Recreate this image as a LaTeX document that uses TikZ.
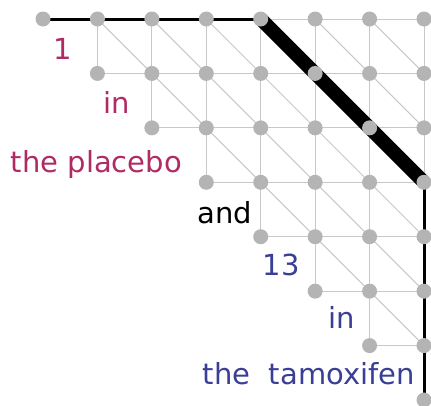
\documentclass[tikz,border=0pt]{standalone}
\usepackage{fontspec}
\setmainfont{DejaVu Sans}
\definecolor{dotgray}{HTML}{B4B4B4}
\definecolor{linegray}{HTML}{C8C8C8}
\definecolor{magentatext}{HTML}{B02A64}
\definecolor{bluetext}{HTML}{3A3F96}
\begin{document}
\begin{tikzpicture}[x=1pt,y=-1pt,
  gridline/.style={draw=linegray, line width=1pt},
  pathline/.style={draw=black, line width=3pt},
  pathdiag/.style={draw=black, line width=14pt},
  dot/.style={circle, fill=dotgray, inner sep=0pt, minimum size=15pt},
  lbl/.style={font=\fontsize{29}{31}\selectfont, anchor=base east, inner sep=0pt}]
\useasboundingbox (0,0) rectangle (431,405);
% lattice points
\foreach \c in {0,...,7}{
  \foreach \r in {0,...,\c}{
    \coordinate (p-\c-\r) at ({43+54.43*\c},{19+54.43*\r});
  }
}
% horizontal grid lines
\foreach \r in {0,...,6}{
  \foreach \c in {\r,...,6}{
    \pgfmathtruncatemacro{\n}{\c+1}
    \draw[gridline] (p-\c-\r) -- (p-\n-\r);
  }
}
% vertical grid lines
\foreach \c in {1,...,7}{
  \pgfmathtruncatemacro{\cm}{\c-1}
  \foreach \r in {0,...,\cm}{
    \pgfmathtruncatemacro{\n}{\r+1}
    \draw[gridline] (p-\c-\r) -- (p-\c-\n);
  }
}
% diagonal grid lines
\foreach \c in {1,...,6}{
  \pgfmathtruncatemacro{\cm}{\c-1}
  \foreach \r in {0,...,\cm}{
    \pgfmathtruncatemacro{\nc}{\c+1}
    \pgfmathtruncatemacro{\nr}{\r+1}
    \draw[gridline] (p-\c-\r) -- (p-\nc-\nr);
  }
}
% alignment path
\draw[pathline] (p-0-0) -- (p-4-0);
\draw[pathdiag] (p-4-0) -- (p-7-3);
\draw[pathline] (p-7-3) -- (p-7-7);
% dots
\foreach \c in {0,...,7}{
  \foreach \r in {0,...,\c}{
    \node[dot] (d-\c-\r) at (p-\c-\r) {};
  }
}
% labels
\node[lbl, text=magentatext] (l1) at (72,59) {1};
\node[lbl, text=magentatext] (l2) at (130,113) {in};
\node[lbl, text=magentatext] (l3) at (182,172) {the placebo};
\node[lbl, text=black] (l4) at (252,223) {and};
\node[lbl, text=bluetext] (l5) at (300,275) {13};
\node[lbl, text=bluetext] (l6) at (355,328) {in};
\node[lbl, text=bluetext] (l7) at (415,384) {the\ \ tamoxifen};
\end{tikzpicture}
\end{document}
